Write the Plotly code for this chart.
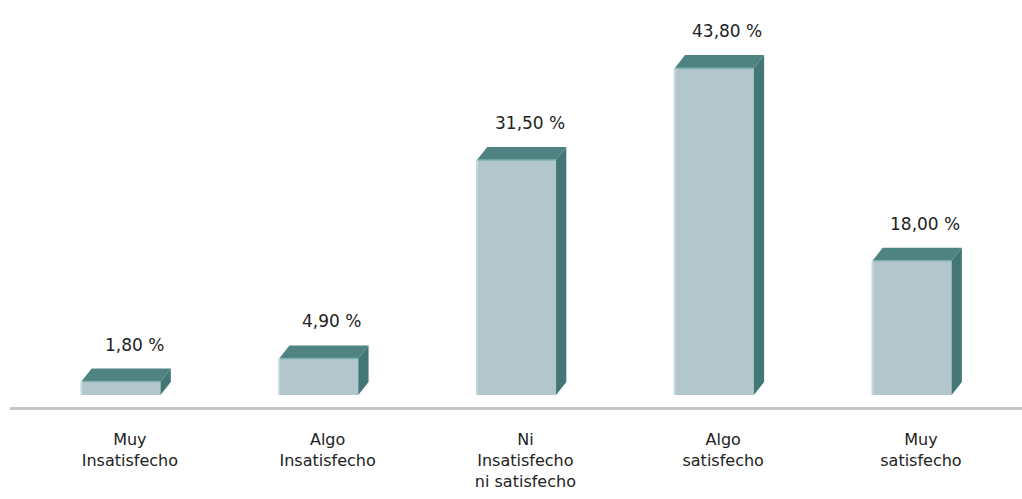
import plotly.graph_objects as go

# Survey satisfaction distribution
categories = ["Muy<br>Insatisfecho", "Algo<br>Insatisfecho", "Ni<br>Insatisfecho<br>ni satisfecho",
              "Algo<br>satisfecho", "Muy<br>satisfecho"]
values = [1.80, 4.90, 31.50, 43.80, 18.00]
value_labels = ["1,80 %", "4,90 %", "31,50 %", "43,80 %", "18,00 %"]

FRONT = "#b3c6cc"
FRONT_EDGE = "#c6d9dd"
TOP = "#4e8382"
TOP_EDGE = "#7fb1b0"
SIDE = "#437776"

W = 0.40      # bar front width (category units)
DX = 0.052    # depth offset along x
DY = 1.75     # depth offset along y (percent units)

fig = go.Figure()


def face(xs, ys, color):
    fig.add_trace(go.Scatter(
        x=xs, y=ys, fill="toself", fillcolor=color, mode="lines",
        line=dict(width=0), hoverinfo="skip", showlegend=False))


for i, v in enumerate(values):
    x0, x1 = i - W / 2, i + W / 2
    face([x0, x1, x1, x0, x0], [0, 0, v, v, 0], FRONT)
    face([x0, x1, x1 + DX, x0 + DX, x0], [v, v, v + DY, v + DY, v], TOP)
    face([x1, x1 + DX, x1 + DX, x1, x1], [0, DY, v + DY, v, 0], SIDE)
    # soft highlights along the front-top edge and the left edge
    fig.add_trace(go.Scatter(
        x=[x0, x1], y=[v, v], mode="lines", line=dict(color=TOP_EDGE, width=1.5),
        hoverinfo="skip", showlegend=False))
    fig.add_trace(go.Scatter(
        x=[x0, x0], y=[0, v], mode="lines", line=dict(color=FRONT_EDGE, width=2),
        hoverinfo="skip", showlegend=False))
    # value label above the bar
    fig.add_annotation(
        x=i + DX / 2 + 0.04, y=v + DY, text=value_labels[i], showarrow=False,
        yanchor="bottom", yshift=12,
        font=dict(family="DejaVu Sans", size=17, color="#222222"))

fig.update_layout(
    width=1022, height=499,
    margin=dict(l=10, r=0, t=0, b=92),
    paper_bgcolor="white", plot_bgcolor="white",
    xaxis=dict(
        range=[-0.561, 4.556], showgrid=False, zeroline=False,
        tickmode="array", tickvals=[i + 0.045 for i in range(len(categories))],
        ticktext=categories, ticks="", ticklabelstandoff=16,
        tickfont=dict(family="DejaVu Sans", size=16, color="#222222"),
        showline=True, linecolor="#c6c6c6", linewidth=3, fixedrange=True),
    yaxis=dict(
        range=[-1.6, 52.93], showgrid=False, zeroline=False,
        showticklabels=False, fixedrange=True),
)

fig.write_html("out.html")
